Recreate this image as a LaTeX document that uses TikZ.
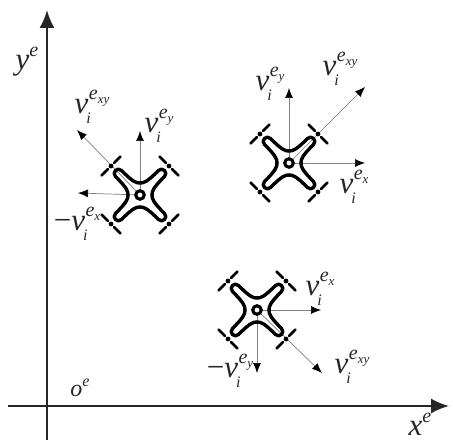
\documentclass[tikz,border=0pt]{standalone}
\usepackage{fontspec}
\setmainfont{Liberation Serif}
\usetikzlibrary{arrows.meta}
\newcommand{\velo}[1]{\mbox{\itshape\fontsize{31}{31}\selectfont v\rlap{\raisebox{-10pt}{\fontsize{16}{16}\selectfont\kern-2pt i}}\raisebox{14pt}{\fontsize{20}{20}\selectfont\kern0.5pt e\raisebox{-4pt}{\fontsize{13}{13}\selectfont #1}}}}
\newcommand{\nvelo}[1]{\mbox{\fontsize{31}{31}\selectfont\char"2212}\velo{#1}}
\newcommand{\axlab}[1]{\mbox{\itshape\fontsize{31}{31}\selectfont #1\raisebox{13pt}{\fontsize{20}{20}\selectfont e}}}
\tikzset{
  axisline/.style={line width=2pt,draw=black!85,-{Latex[length=18pt,width=15pt]}},
  veloarrow/.style={line width=0.7pt,draw=black!50,-{Latex[length=10pt,width=8pt,color=black]}},
  bodyline/.style={line width=3.4pt,line cap=round,line join=round},
  rotorline/.style={line width=2.8pt,line cap=round},
  hub/.style={circle,draw,fill=white,line width=3.1pt,minimum size=8.5pt,inner sep=0pt},
  lab/.style={inner sep=0pt,text=black!85},
  quad/.pic={
    \foreach \a in {0,90,180,270}{
      \begin{scope}[rotate=\a]
        \draw[bodyline] (12,0) .. controls (12,-4) and (13,-7) .. (24.5,-18.5)
          .. controls (28.5,-22.5) and (22.5,-28.5) .. (18.5,-24.5)
          .. controls (7,-13) and (4,-12) .. (0,-12);
        \draw[rotorline] (32,-26) -- (38.5,-19.5);
        \draw[rotorline] (26,-32) -- (19.5,-38.5);
        \fill (29,-29) circle (2.4pt);
      \end{scope}
    }
  }
}
\begin{document}
\begin{tikzpicture}[x=1pt,y=-1pt]
\useasboundingbox (0,0) rectangle (453,441);
% axes
\coordinate (ys) at (47,440); \coordinate (ye) at (47,10);
\coordinate (xs) at (8,406);  \coordinate (xe) at (449,406);
\draw[axisline] (ys) -- (ye);
\draw[axisline] (xs) -- (xe);
\node[lab] (ylab) at (27,62) {\axlab{y}};
\node[lab] (xlab) at (420,424) {\axlab{x}};
\node[lab] (olab) at (80,388) {\mbox{\itshape\fontsize{24}{24}\selectfont o\raisebox{10pt}{\fontsize{16}{16}\selectfont e}}};
% centres
\coordinate (A) at (140,195);
\coordinate (B) at (289,163);
\coordinate (C) at (257,310);
% arrow ends
\coordinate (Axy) at (77,130); \coordinate (Ay) at (140,131); \coordinate (Ax) at (78,193);
\coordinate (Bxy) at (365,87); \coordinate (By) at (289,88); \coordinate (Bx) at (365,163);
\coordinate (Cxy) at (322,373); \coordinate (Cy) at (257,373); \coordinate (Cx) at (321,310);
\foreach \c/\e in {A/Axy,A/Ay,A/Ax,B/Bxy,B/By,B/Bx,C/Cxy,C/Cy,C/Cx}{
  \draw[veloarrow] (\c) -- (\e);
}
% quadrotors
\foreach \c in {A,B,C}{
  \pic at (\c) {quad};
  \node[hub] (hub\c) at (\c) {};
}
% labels
\node[lab] (lAxy) at (92,107) {\velo{xy}};
\node[lab] (lAy) at (159,126) {\velo{y}};
\node[lab] (lAx) at (77,224) {\nvelo{x}};
\node[lab] (lBy) at (270,84) {\velo{y}};
\node[lab] (lBxy) at (340,69) {\velo{xy}};
\node[lab] (lBx) at (354,187) {\velo{x}};
\node[lab] (lCx) at (320,289) {\velo{x}};
\node[lab] (lCy) at (230,371) {\nvelo{y}};
\node[lab] (lCxy) at (352,367) {\velo{xy}};
\end{tikzpicture}
\end{document}
